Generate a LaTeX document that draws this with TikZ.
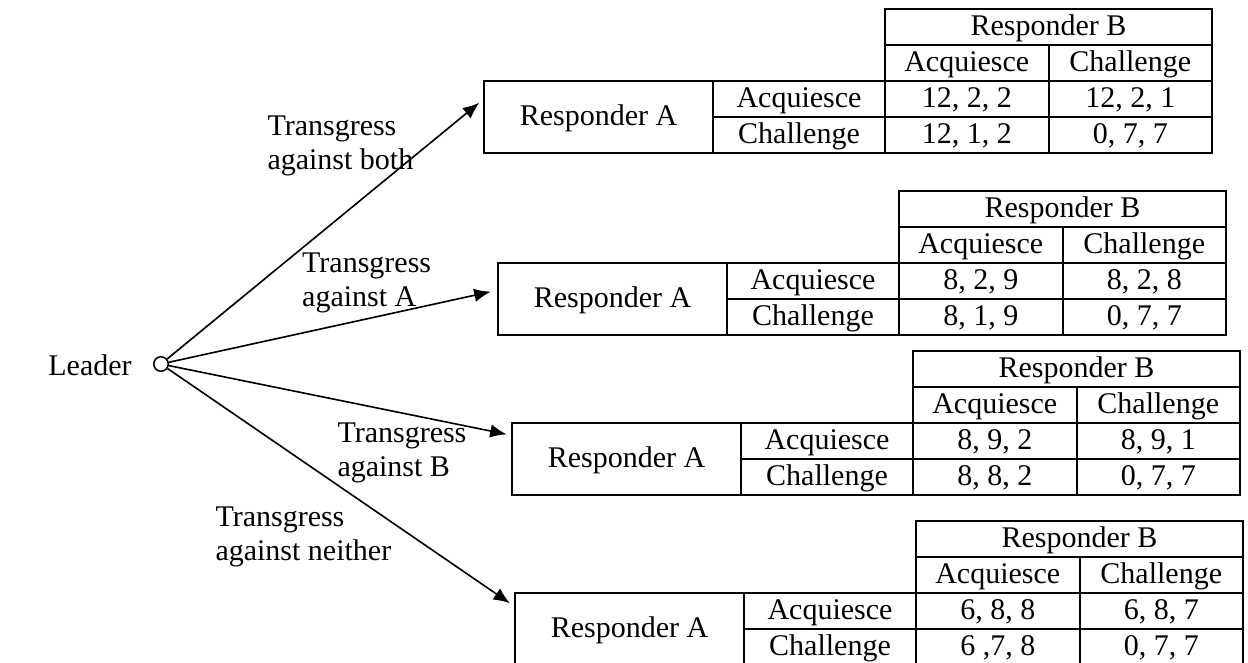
\documentclass[tikz,border=0pt]{standalone}
\usepackage{fontspec}
\setmainfont{Liberation Serif}
\usetikzlibrary{positioning}
\usetikzlibrary{arrows.meta}

% payoff table: name, top left corner of the body, four payoffs
\newcommand{\paytable}[6]{%
	\node[cell,minimum width=91.6pt,minimum height=28.8pt,anchor=north west] (#1a) at (#2) {Responder A};
	\node[cell,lab,anchor=north west] (#1aq) at (#1a.north east) {Acquiesce};
	\node[cell,lab,below=0pt of #1aq] (#1ch) {Challenge};
	\node[cell,pay,right=0pt of #1aq] (#1p11) {#3};
	\node[cell,pay,right=0pt of #1p11] (#1p12) {#4};
	\node[cell,pay,right=0pt of #1ch] (#1p21) {#5};
	\node[cell,pay,right=0pt of #1p21] (#1p22) {#6};
	\node[cell,pay,above=0pt of #1p11] (#1bac) {Acquiesce};
	\node[cell,pay,above=0pt of #1p12] (#1bch) {Challenge};
	\node[cell,minimum width=130.8pt,above=0pt of #1bac.north east] (#1b) {Responder B};
}

\begin{document}
\begin{tikzpicture}[x=0.4pt,y=-0.4pt,>={Latex[length=6.6pt,width=5.4pt]},
	font=\fontsize{12}{13.8}\selectfont,
	cell/.style={draw,line width=0.8pt,inner sep=0pt,outer sep=0pt,
		minimum height=14.4pt,text height=8.6pt,text depth=1.8pt},
	lab/.style={minimum width=68.8pt},
	pay/.style={minimum width=65.4pt},
	lbl/.style={align=left,inner sep=0pt,anchor=west},
	main node/.style={circle,draw,line width=0.6pt,inner sep=0pt,minimum size=5.8pt}]
	
	\useasboundingbox (0,0) rectangle (1248,662);
	
	\node (leader) at (90,365) {Leader};
	\node[main node] (root) at (161,364) {};
	
	\paytable{t1}{484,81}{12, 2, 2}{12, 2, 1}{12, 1, 2}{0, 7, 7}
	\paytable{t2}{498,263}{8, 2, 9}{8, 2, 8}{8, 1, 9}{0, 7, 7}
	\paytable{t3}{512,423.3}{8, 9, 2}{8, 9, 1}{8, 8, 2}{0, 7, 7}
	\paytable{t4}{515,593.3}{6, 8, 8}{6, 8, 7}{6 ,7, 8}{0, 7, 7}
	
	\coordinate (tboth) at (479.3,102.7);
	\coordinate (ta) at (490.7,291.7);
	\coordinate (tb) at (506.7,434.3);
	\coordinate (tnone) at (510,603.3);
	
	\node[lbl] (lboth) at (267,146) {Transgress\\against both};
	\node[lbl] (la) at (301.7,283) {Transgress\\against A};
	\node[lbl] (lb) at (337,453) {Transgress\\against B};
	\node[lbl] (lnone) at (215,537) {Transgress\\against neither};
	
	\path[->,line width=0.65pt]
	(root) edge (tboth)
	(root) edge (ta)
	(root) edge (tb)
	(root) edge (tnone);
\end{tikzpicture}
\end{document}
